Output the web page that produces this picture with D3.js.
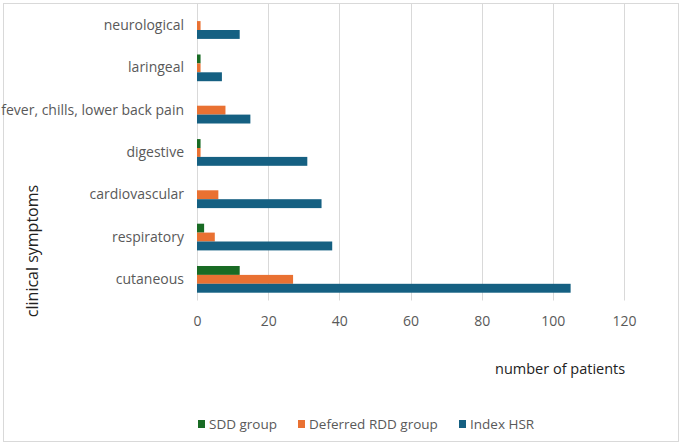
<!DOCTYPE html>
<html>
<head>
<meta charset="utf-8">
<script src="https://cdn.jsdelivr.net/npm/d3@7"></script>
<style>
  html, body { margin: 0; padding: 0; background: #fff; }
  svg { display: block; }
  text { font-family: "Open Sans", sans-serif; fill: #595959; }
</style>
</head>
<body>
<svg id="chart" width="682" height="446"></svg>
<script>
// Data
const categories = ["neurological", "laringeal", "fever, chills, lower back pain", "digestive", "cardiovascular", "respiratory", "cutaneous"];
const seriesNames = ["SDD group", "Deferred RDD group", "Index HSR"];
const sddValues = [0, 1, 0, 1, 0, 2, 12];
const deferredValues = [1, 1, 8, 1, 6, 5, 27];
const indexValues = [12, 7, 15, 31, 35, 38, 105];
const xTicks = [0, 20, 40, 60, 80, 100, 120];
const colors = ["#196B24", "#E97132", "#156082"];

const seriesValues = [sddValues, deferredValues, indexValues];

const svg = d3.select("#chart");

// border
svg.append("rect").attr("x", 3.5).attr("y", 3.5).attr("width", 675).attr("height", 438)
  .attr("fill", "none").attr("stroke", "#d9d9d9").attr("stroke-width", 1);

const x = d3.scaleLinear().domain([0, 120]).range([197, 624]);
const y = d3.scaleBand().domain(categories).range([4.4, 300.5]).padding(0);
const ySub = d3.scaleBand().domain(seriesNames).range([0, y.bandwidth()]).paddingInner(0).paddingOuter(0.875);

// gridlines
svg.append("g").selectAll("line").data(xTicks).join("line")
  .attr("x1", d => Math.round(x(d)) + 0.5).attr("x2", d => Math.round(x(d)) + 0.5)
  .attr("y1", 4).attr("y2", 300.5)
  .attr("stroke", "#d9d9d9").attr("stroke-width", 1);

// bars
const groups = svg.append("g").selectAll("g").data(categories).join("g")
  .attr("transform", c => `translate(0,${y(c)})`);

groups.selectAll("rect")
  .data((c, i) => seriesNames.map((s, j) => ({ s, j, v: seriesValues[j][i] })))
  .join("rect")
  .attr("x", x(0))
  .attr("y", d => ySub(d.s))
  .attr("width", d => x(d.v) - x(0))
  .attr("height", ySub.bandwidth())
  .attr("fill", d => colors[d.j]);

// x axis labels
const xAxis = d3.axisBottom(x).tickValues(xTicks).tickSize(0).tickPadding(0);
const xg = svg.append("g").attr("transform", "translate(0,316)").call(xAxis);
xg.select(".domain").remove();
xg.selectAll("text").attr("font-size", 14).attr("font-family", "Open Sans, sans-serif").attr("fill", "#595959");

// y axis labels
const yAxis = d3.axisLeft(y).tickSize(0).tickPadding(13);
const yg = svg.append("g").attr("transform", `translate(${x(0)},0)`).call(yAxis);
yg.select(".domain").remove();
yg.selectAll("text").attr("font-size", 14).attr("font-family", "Open Sans, sans-serif").attr("fill", "#595959");

// axis titles
svg.append("text").attr("x", 495).attr("y", 374).attr("font-size", 14.5).attr("fill", "#222").style("fill", "#222").text("number of patients");
svg.append("text").attr("transform", "translate(38,251) rotate(-90)").attr("text-anchor", "middle")
  .attr("font-size", 16).style("fill", "#222").text("clinical symptoms");

// legend
const legendX = [198, 298, 459];
const leg = svg.append("g").selectAll("g").data(seriesNames).join("g")
  .attr("transform", (d, i) => `translate(${legendX[i]},424)`);
leg.append("rect").attr("x", 0).attr("y", -4).attr("width", 7).attr("height", 8).attr("fill", (d, i) => colors[i]);
leg.append("text").attr("x", 11).attr("y", 0).attr("dy", "0.35em").attr("font-size", 13.5).text(d => d);
</script>
</body>
</html>
